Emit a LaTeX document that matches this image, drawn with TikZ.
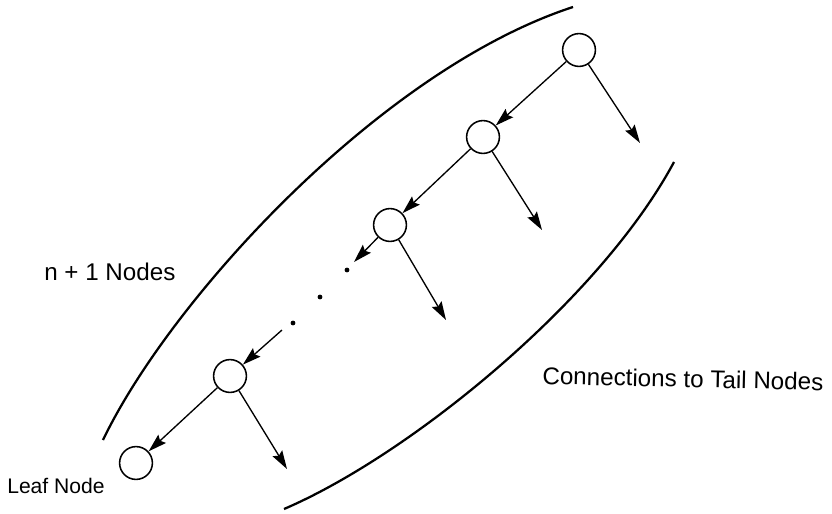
\documentclass[tikz,border=0pt]{standalone}
\usepackage{fontspec}
\setmainfont{Liberation Sans}
\usepackage{tikz}
\usetikzlibrary{arrows.meta}

\begin{document}
\begin{tikzpicture}[x=0.025cm, y=-0.025cm,
  >={Stealth[length=4.6mm, width=2.8mm, inset=0.7mm]},
  every node/.style={font=\fontsize{17.2}{20}\selectfont},
  treenode/.style={circle, draw, line width=1.1pt, minimum size=0.82cm, inner sep=0pt},
  arrow/.style={->, line width=0.95pt},
  bound/.style={line width=1.6pt},
  lbl/.style={anchor=base west, inner sep=0pt}
]
\useasboundingbox (0,0) rectangle (832,513);

% chain of nodes
\node[treenode] (n1) at (579,50) {};
\node[treenode] (n2) at (483,137) {};
\node[treenode] (n3) at (390,225) {};
\node[treenode] (n4) at (230,376) {};
\node[treenode] (leaf) at (136,463) {};

% free ends
\coordinate (t1) at (640,143);
\coordinate (t2) at (542,230);
\coordinate (t3) at (446,320);
\coordinate (t4) at (287,469);
\coordinate (gapin) at (354,262);
\coordinate (gapout) at (282,330);

\draw[arrow] (n1) -- (n2);
\draw[arrow] (n2) -- (n3);
\draw[arrow] (n3) -- (gapin);
\draw[arrow] (gapout) -- (n4);
\draw[arrow] (n4) -- (leaf);

\draw[arrow] (n1) -- (t1);
\draw[arrow] (n2) -- (t2);
\draw[arrow] (n3) -- (t3);
\draw[arrow] (n4) -- (t4);

% dots
\foreach \p in {(347,270), (320,297), (293,323)}
  \fill \p circle (2.4);

% bounding curves
\draw[bound] (103,440) .. controls (170,300) and (380,70) .. (573,7);
\draw[bound] (284,509) .. controls (410,455) and (600,300) .. (674,162);

% labels
\node[lbl] (nn) at (44,280) {n + 1 Nodes};
\node[lbl, rotate=-1.3] (conn) at (542,384) {Connections to Tail Nodes};
\node[lbl, font=\fontsize{15}{18}\selectfont] (leaflbl) at (7,493) {Leaf Node};
\end{tikzpicture}
\end{document}
